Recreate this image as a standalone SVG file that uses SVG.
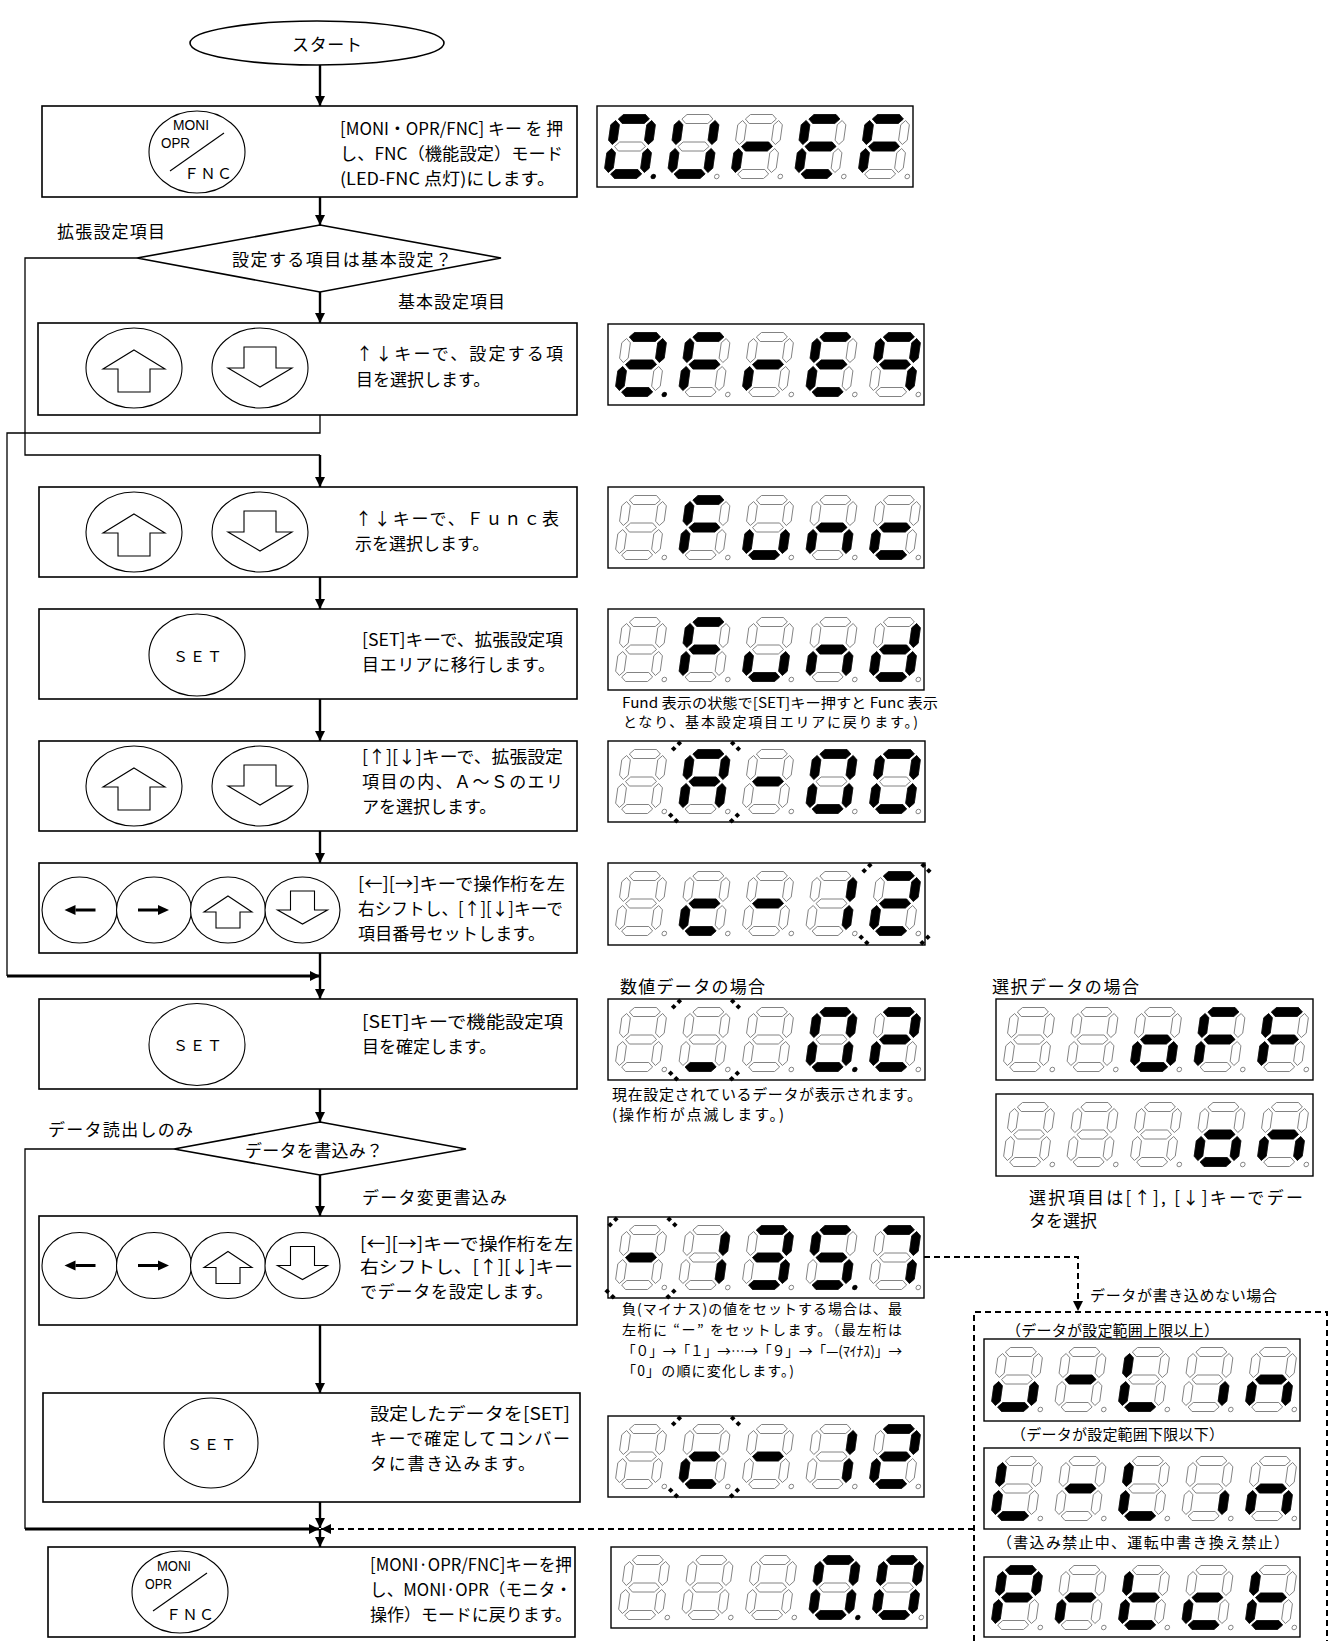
<svg xmlns="http://www.w3.org/2000/svg" xmlns:xlink="http://www.w3.org/1999/xlink" width="1332" height="1641" viewBox="0 0 1332 1641">
<style>
text{font-family:"Noto Sans CJK JP","Noto Sans CJK SC",sans-serif;fill:#000;dominant-baseline:central}
.t{font-size:17px}
.s{font-size:14px}
.m{font-size:15px}
.k{font-family:"Liberation Sans",Arial,sans-serif;font-size:14px}
.box{fill:#fff;stroke:#000;stroke-width:1.6}
.led{fill:#fff;stroke:#000;stroke-width:1.4}
.key{fill:#fff;stroke:#000;stroke-width:1.1}
.ln{fill:none;stroke:#000;stroke-width:2.4}
.thin{fill:none;stroke:#000;stroke-width:1.3}
.thick{fill:none;stroke:#000;stroke-width:3.2}
.dash{fill:none;stroke:#000;stroke-width:2;stroke-dasharray:6 4}
</style>
<defs>
<marker id="ah" viewBox="0 0 10 10" refX="10" refY="5" markerWidth="10" markerHeight="10" markerUnits="userSpaceOnUse" orient="auto"><path d="M0,0 L10,5 L0,10 Z" fill="#000"/></marker>
<path id="sa" d="M5,4.5 L9.5,0 L31.5,0 L36,4.5 L31.5,9 L9.5,9 Z"/>
<path id="sg" d="M5,32 L9.5,27.5 L31.5,27.5 L36,32 L31.5,36.5 L9.5,36.5 Z"/>
<path id="sd" d="M5,59.5 L9.5,55 L31.5,55 L36,59.5 L31.5,64 L9.5,64 Z"/>
<path id="sf" d="M2.5,6 L6.8,10.3 L6.8,25.7 L2.5,30 L-1.8,25.7 L-1.8,10.3 Z"/>
<path id="sb" d="M38.5,6 L42.8,10.3 L42.8,25.7 L38.5,30 L34.2,25.7 L34.2,10.3 Z"/>
<path id="se" d="M2.5,34 L6.8,38.3 L6.8,53.7 L2.5,58 L-1.8,53.7 L-1.8,38.3 Z"/>
<path id="sc" d="M38.5,34 L42.8,38.3 L42.8,53.7 L38.5,58 L34.2,53.7 L34.2,38.3 Z"/>
<g id="d8" fill="#fff" stroke="#7a7a7a" stroke-width="0.9"><use href="#sa"/><use href="#sb"/><use href="#sc"/><use href="#sd"/><use href="#se"/><use href="#sf"/><use href="#sg"/><circle cx="48" cy="62" r="2.3"/></g>
<circle id="dpo" cx="48" cy="62" r="2.5" fill="#000" transform="skewX(-8)"/>
<g id="cB" transform="skewX(-8)"><use href="#d8"/></g>
<g id="c0" transform="skewX(-8)"><use href="#d8"/><g fill="#000" stroke="#000" stroke-width="0.6"><use href="#sa"/><use href="#sb"/><use href="#sc"/><use href="#sd"/><use href="#se"/><use href="#sf"/></g></g>
<g id="cU" transform="skewX(-8)"><use href="#d8"/><g fill="#000" stroke="#000" stroke-width="0.6"><use href="#sb"/><use href="#sc"/><use href="#sd"/><use href="#se"/><use href="#sf"/></g></g>
<g id="cr" transform="skewX(-8)"><use href="#d8"/><g fill="#000" stroke="#000" stroke-width="0.6"><use href="#se"/><use href="#sg"/></g></g>
<g id="cE" transform="skewX(-8)"><use href="#d8"/><g fill="#000" stroke="#000" stroke-width="0.6"><use href="#sa"/><use href="#sd"/><use href="#se"/><use href="#sf"/><use href="#sg"/></g></g>
<g id="cF" transform="skewX(-8)"><use href="#d8"/><g fill="#000" stroke="#000" stroke-width="0.6"><use href="#sa"/><use href="#se"/><use href="#sf"/><use href="#sg"/></g></g>
<g id="c2" transform="skewX(-8)"><use href="#d8"/><g fill="#000" stroke="#000" stroke-width="0.6"><use href="#sa"/><use href="#sb"/><use href="#sd"/><use href="#se"/><use href="#sg"/></g></g>
<g id="cq" transform="skewX(-8)"><use href="#d8"/><g fill="#000" stroke="#000" stroke-width="0.6"><use href="#sa"/><use href="#sb"/><use href="#sc"/><use href="#sf"/><use href="#sg"/></g></g>
<g id="cu" transform="skewX(-8)"><use href="#d8"/><g fill="#000" stroke="#000" stroke-width="0.6"><use href="#sc"/><use href="#sd"/><use href="#se"/></g></g>
<g id="cn" transform="skewX(-8)"><use href="#d8"/><g fill="#000" stroke="#000" stroke-width="0.6"><use href="#sc"/><use href="#se"/><use href="#sg"/></g></g>
<g id="cc" transform="skewX(-8)"><use href="#d8"/><g fill="#000" stroke="#000" stroke-width="0.6"><use href="#sd"/><use href="#se"/><use href="#sg"/></g></g>
<g id="cd" transform="skewX(-8)"><use href="#d8"/><g fill="#000" stroke="#000" stroke-width="0.6"><use href="#sb"/><use href="#sc"/><use href="#sd"/><use href="#se"/><use href="#sg"/></g></g>
<g id="cA" transform="skewX(-8)"><use href="#d8"/><g fill="#000" stroke="#000" stroke-width="0.6"><use href="#sa"/><use href="#sb"/><use href="#sc"/><use href="#se"/><use href="#sf"/><use href="#sg"/></g></g>
<g id="cm" transform="skewX(-8)"><use href="#d8"/><g fill="#000" stroke="#000" stroke-width="0.6"><use href="#sg"/></g></g>
<g id="c1" transform="skewX(-8)"><use href="#d8"/><g fill="#000" stroke="#000" stroke-width="0.6"><use href="#sb"/><use href="#sc"/></g></g>
<g id="c3" transform="skewX(-8)"><use href="#d8"/><g fill="#000" stroke="#000" stroke-width="0.6"><use href="#sa"/><use href="#sb"/><use href="#sc"/><use href="#sd"/><use href="#sg"/></g></g>
<g id="c5" transform="skewX(-8)"><use href="#d8"/><g fill="#000" stroke="#000" stroke-width="0.6"><use href="#sa"/><use href="#sc"/><use href="#sd"/><use href="#sf"/><use href="#sg"/></g></g>
<g id="c7" transform="skewX(-8)"><use href="#d8"/><g fill="#000" stroke="#000" stroke-width="0.6"><use href="#sa"/><use href="#sb"/><use href="#sc"/></g></g>
<g id="co" transform="skewX(-8)"><use href="#d8"/><g fill="#000" stroke="#000" stroke-width="0.6"><use href="#sc"/><use href="#sd"/><use href="#se"/><use href="#sg"/></g></g>
<g id="cL" transform="skewX(-8)"><use href="#d8"/><g fill="#000" stroke="#000" stroke-width="0.6"><use href="#sd"/><use href="#se"/><use href="#sf"/></g></g>
<g id="ci" transform="skewX(-8)"><use href="#d8"/><g fill="#000" stroke="#000" stroke-width="0.6"><use href="#sc"/></g></g>
<g id="cP" transform="skewX(-8)"><use href="#d8"/><g fill="#000" stroke="#000" stroke-width="0.6"><use href="#sa"/><use href="#sb"/><use href="#se"/><use href="#sf"/><use href="#sg"/></g></g>
<g id="ct" transform="skewX(-8)"><use href="#d8"/><g fill="#000" stroke="#000" stroke-width="0.6"><use href="#sd"/><use href="#se"/><use href="#sf"/><use href="#sg"/></g></g>
<g id="cl" transform="skewX(-8)"><use href="#d8"/><g fill="#000" stroke="#000" stroke-width="0.6"><use href="#sd"/></g></g>
<path id="dm" d="M0,-2.8 L2.8,0 L0,2.8 L-2.8,0 Z" fill="#000"/>
<g id="mk1"><use href="#dm" x="-2.8" y="2.8"/><use href="#dm" x="2.8" y="-2.8"/></g>
<g id="mk2"><use href="#dm" x="-2.8" y="-2.8"/><use href="#dm" x="2.8" y="2.8"/></g>
<g id="blink"><use href="#mk1" x="-12" y="5"/><use href="#mk2" x="47" y="5"/><use href="#mk2" x="-15" y="77"/><use href="#mk1" x="46" y="77"/></g>
<g id="kU"><ellipse rx="48" ry="40" class="key"/><polygon points="0,-18 31,1 16,1 16,24 -16,24 -16,1 -31,1" class="key"/></g>
<g id="kD"><ellipse rx="48" ry="40" class="key"/><polygon points="-16,-21 16,-21 16,0 32,0 0,19 -32,0 -16,0" class="key"/></g>
<g id="sU"><ellipse rx="37.5" ry="33" class="key"/><polygon points="0,-14 24,2 12,2 12,18 -12,18 -12,2 -24,2" class="key"/></g>
<g id="sD"><ellipse rx="37.5" ry="33" class="key"/><polygon points="-12,-19 12,-19 12,0 25,0 0,14 -25,0 -12,0" class="key"/></g>
<g id="sL"><ellipse rx="37.5" ry="33" class="key"/><path d="M16,0 H-4" stroke="#000" stroke-width="3"/><polygon points="-15,0 -4,-5 -4,5" fill="#000"/></g>
<g id="sR"><ellipse rx="37.5" ry="33" class="key"/><path d="M-16,0 H4" stroke="#000" stroke-width="3"/><polygon points="15,0 4,-5 4,5" fill="#000"/></g>
<g id="kM"><ellipse rx="48" ry="41" class="key"/><line x1="-27" y1="19" x2="27" y2="-19" stroke="#000" stroke-width="1.1"/></g>
</defs>
<rect width="1332" height="1641" fill="#fff"/>

<g id="connectors">
<path class="ln" d="M320,65 V106" marker-end="url(#ah)"/>
<path class="ln" d="M320,197 V225" marker-end="url(#ah)"/>
<path class="ln" d="M320,292 V323" marker-end="url(#ah)"/>
<path class="thin" d="M320,415 V433 H7 V976"/>
<path class="thick" d="M7,976 H320" marker-end="url(#ah)"/>
<path class="thin" d="M137,258 H25 V455 H320"/>
<path class="ln" d="M320,455 V487" marker-end="url(#ah)"/>
<path class="ln" d="M320,577 V609" marker-end="url(#ah)"/>
<path class="ln" d="M320,699 V741" marker-end="url(#ah)"/>
<path class="ln" d="M320,831 V863" marker-end="url(#ah)"/>
<path class="ln" d="M320,953 V999" marker-end="url(#ah)"/>
<path class="ln" d="M320,1089 V1122" marker-end="url(#ah)"/>
<path class="ln" d="M320,1175 V1216" marker-end="url(#ah)"/>
<path class="ln" d="M320,1325 V1393" marker-end="url(#ah)"/>
<path class="ln" d="M320,1502 V1528" marker-end="url(#ah)"/>
<path class="thin" d="M174,1149 H25 V1529"/>
<path class="thick" d="M25,1529 H319" marker-end="url(#ah)"/>
<path class="dash" d="M974,1529 H321" marker-end="url(#ah)"/>
<path class="ln" d="M320,1529 V1547" marker-end="url(#ah)"/>
<path class="dash" d="M924,1257 H1078 V1311" marker-end="url(#ah)"/>
</g>

<g id="start"><ellipse cx="317" cy="43" rx="127" ry="22" class="box"/><text class="t" x="292" y="43" textLength="70">スタート</text></g>

<g id="step1">
<rect x="42" y="106" width="535" height="91" class="box"/>
<use href="#kM" x="197" y="152"/>
<text class="k" x="173" y="125" textLength="36" lengthAdjust="spacingAndGlyphs">MONI</text>
<text class="k" x="161" y="143" textLength="29" lengthAdjust="spacingAndGlyphs">OPR</text>
<text class="m" x="184" y="172" textLength="48">ＦＮＣ</text>
<text class="t" x="340" y="127" textLength="223" lengthAdjust="spacingAndGlyphs">[MONI・OPR/FNC] キー を 押</text>
<text class="t" x="340" y="152" textLength="223" lengthAdjust="spacingAndGlyphs">し、FNC（機能設定）モード</text>
<text class="t" x="340" y="177" textLength="215" lengthAdjust="spacingAndGlyphs">(LED-FNC 点灯)にします。</text>
</g>

<g id="q1">
<polygon points="320,225 501,258 320,292 137,258" class="box"/>
<text class="t" x="232" y="258" textLength="220">設定する項目は基本設定？</text>
<text class="t" x="57" y="230" textLength="108">拡張設定項目</text>
<text class="t" x="398" y="300" textLength="107">基本設定項目</text>
</g>

<g id="step2">
<rect x="38" y="323" width="539" height="92" class="box"/>
<use href="#kU" x="134" y="368"/>
<use href="#kD" x="260" y="368"/>
<text class="t" x="356" y="352" textLength="207">↑↓キーで、設定する項</text>
<text class="t" x="356" y="378">目を選択します。</text>
</g>

<g id="step3">
<rect x="39" y="487" width="538" height="90" class="box"/>
<use href="#kU" x="134" y="532"/>
<use href="#kD" x="260" y="532"/>
<text class="t" x="355" y="517" textLength="204">↑↓キーで、Ｆｕｎｃ表</text>
<text class="t" x="355" y="542">示を選択します。</text>
</g>

<g id="step4">
<rect x="39" y="609" width="538" height="90" class="box"/>
<ellipse cx="197" cy="655" rx="48" ry="41" class="key"/>
<text class="m" x="173" y="655" textLength="49">ＳＥＴ</text>
<text class="t" x="362" y="638" textLength="201" lengthAdjust="spacingAndGlyphs">[SET]キーで、拡張設定項</text>
<text class="t" x="362" y="663" textLength="193">目エリアに移行します。</text>
</g>

<g id="step5">
<rect x="39" y="741" width="538" height="90" class="box"/>
<use href="#kU" x="134" y="786"/>
<use href="#kD" x="260" y="786"/>
<text class="t" x="362" y="755" textLength="201" lengthAdjust="spacingAndGlyphs">[↑][↓]キーで、拡張設定</text>
<text class="t" x="362" y="780" textLength="201">項目の内、Ａ～Ｓのエリ</text>
<text class="t" x="362" y="805">アを選択します。</text>
</g>

<g id="step6">
<rect x="39" y="863" width="538" height="90" class="box"/>
<use href="#sL" x="79.5" y="910"/>
<use href="#sR" x="154" y="910"/>
<use href="#sU" x="228" y="910"/>
<use href="#sD" x="302.5" y="910"/>
<text class="t" x="358" y="882" textLength="207" lengthAdjust="spacingAndGlyphs">[←][→]キーで操作桁を左</text>
<text class="t" x="358" y="907" textLength="205" lengthAdjust="spacingAndGlyphs">右シフトし、[↑][↓]キーで</text>
<text class="t" x="358" y="932" textLength="187">項目番号セットします。</text>
</g>

<g id="step7">
<rect x="39" y="999" width="538" height="90" class="box"/>
<ellipse cx="197" cy="1044.5" rx="48" ry="41" class="key"/>
<text class="m" x="173" y="1044.5" textLength="49">ＳＥＴ</text>
<text class="t" x="362" y="1020" textLength="201" lengthAdjust="spacingAndGlyphs">[SET]キーで機能設定項</text>
<text class="t" x="362" y="1045">目を確定します。</text>
</g>

<g id="q2">
<polygon points="320,1122 466,1149 320,1175 174,1149" class="box"/>
<text class="t" x="245" y="1149" textLength="138">データを書込み？</text>
<text class="t" x="48" y="1128" textLength="145">データ読出しのみ</text>
<text class="t" x="362" y="1196" textLength="145">データ変更書込み</text>
</g>

<g id="step8">
<rect x="39" y="1216" width="538" height="109" class="box"/>
<use href="#sL" x="79.5" y="1265.5"/>
<use href="#sR" x="154" y="1265.5"/>
<use href="#sU" x="228" y="1265.5"/>
<use href="#sD" x="302.5" y="1265.5"/>
<text class="t" x="360" y="1242" textLength="213" lengthAdjust="spacingAndGlyphs">[←][→]キーで操作桁を左</text>
<text class="t" x="360" y="1265" textLength="213" lengthAdjust="spacingAndGlyphs">右シフトし、[↑][↓]キー</text>
<text class="t" x="360" y="1290" textLength="193">でデータを設定します。</text>
</g>

<g id="step9">
<rect x="43" y="1393" width="537" height="109" class="box"/>
<ellipse cx="211" cy="1443" rx="47" ry="45" class="key"/>
<text class="m" x="187" y="1443" textLength="49">ＳＥＴ</text>
<text class="t" x="370" y="1412" textLength="200" lengthAdjust="spacingAndGlyphs">設定したデータを[SET]</text>
<text class="t" x="370" y="1437" textLength="200">キーで確定してコンバー</text>
<text class="t" x="370" y="1462" textLength="165">タに書き込みます。</text>
</g>

<g id="step10">
<rect x="48" y="1547" width="527" height="90" class="box"/>
<use href="#kM" x="180" y="1592"/>
<text class="k" x="157" y="1566" textLength="34" lengthAdjust="spacingAndGlyphs">MONI</text>
<text class="k" x="145" y="1584" textLength="27" lengthAdjust="spacingAndGlyphs">OPR</text>
<text class="m" x="166" y="1613" textLength="48">ＦＮＣ</text>
<text class="t" x="370" y="1563" textLength="202" lengthAdjust="spacingAndGlyphs">[MONI·OPR/FNC]キーを押</text>
<text class="t" x="370" y="1588" textLength="202" lengthAdjust="spacingAndGlyphs">し、MONI·OPR（モニタ・</text>
<text class="t" x="370" y="1613" textLength="202" lengthAdjust="spacingAndGlyphs">操作）モードに戻ります。</text>
</g>

<g id="led1" transform="translate(597,106)">
<rect width="316" height="81" class="led"/>
<use href="#c0" x="17" y="8.5"/><use href="#dpo" x="17" y="8.5"/><use href="#cU" x="80.5" y="8.5"/><use href="#cr" x="144" y="8.5"/><use href="#cE" x="207.5" y="8.5"/><use href="#cF" x="271" y="8.5"/>
</g>
<g id="led2" transform="translate(608,324)">
<rect width="316" height="81" class="led"/>
<use href="#c2" x="17" y="8.5"/><use href="#dpo" x="17" y="8.5"/><use href="#cF" x="80.5" y="8.5"/><use href="#cr" x="144" y="8.5"/><use href="#cE" x="207.5" y="8.5"/><use href="#cq" x="271" y="8.5"/>
</g>
<g id="led3" transform="translate(608,487)">
<rect width="316" height="81" class="led"/>
<use href="#cB" x="17" y="8.5"/><use href="#cF" x="80.5" y="8.5"/><use href="#cu" x="144" y="8.5"/><use href="#cn" x="207.5" y="8.5"/><use href="#cc" x="271" y="8.5"/>
</g>
<g id="led4" transform="translate(608,609)">
<rect width="316" height="81" class="led"/>
<use href="#cB" x="17" y="8.5"/><use href="#cF" x="80.5" y="8.5"/><use href="#cu" x="144" y="8.5"/><use href="#cn" x="207.5" y="8.5"/><use href="#cd" x="271" y="8.5"/>
</g>
<g id="note-fund">
<text class="s" x="622" y="702" textLength="316" lengthAdjust="spacingAndGlyphs">Fund 表示の状態で[SET]キー押すと Func 表示</text>
<text class="s" x="623" y="721" textLength="295">となり、基本設定項目エリアに戻ります。)</text>
</g>
<g id="led5" transform="translate(608,741)">
<rect width="317" height="81" class="led"/>
<use href="#cB" x="17" y="8.5"/><use href="#cA" x="80.5" y="8.5"/><use href="#cm" x="144" y="8.5"/><use href="#c0" x="207.5" y="8.5"/><use href="#c0" x="271" y="8.5"/>
<use href="#blink" x="80.5"/>
</g>
<g id="led6" transform="translate(608,863)">
<rect width="317" height="82" class="led"/>
<use href="#cB" x="17" y="8.5"/><use href="#cc" x="80.5" y="8.5"/><use href="#cm" x="144" y="8.5"/><use href="#c1" x="207.5" y="8.5"/><use href="#c2" x="271" y="8.5"/>
<use href="#blink" x="271"/>
</g>

<g id="numeric">
<text class="t" x="620" y="985" textLength="145">数値データの場合</text>
<g transform="translate(608,999)">
<rect width="317" height="81" class="led"/>
<use href="#cB" x="17" y="8.5"/><use href="#cl" x="80.5" y="8.5"/><use href="#cB" x="144" y="8.5"/><use href="#c0" x="207.5" y="8.5"/><use href="#dpo" x="207.5" y="8.5"/><use href="#c2" x="271" y="8.5"/>
<use href="#blink" x="80.5"/>
</g>
<text class="m" x="612" y="1093" textLength="310">現在設定されているデータが表示されます。</text>
<text class="m" x="612" y="1113" textLength="172">(操作桁が点滅します。)</text>
</g>

<g id="select">
<text class="t" x="992" y="985" textLength="147">選択データの場合</text>
<g transform="translate(996,999)">
<rect width="317" height="81" class="led"/>
<use href="#cB" x="17" y="8.5"/><use href="#cB" x="80.5" y="8.5"/><use href="#co" x="144" y="8.5"/><use href="#cF" x="207.5" y="8.5"/><use href="#cF" x="271" y="8.5"/>
</g>
<g transform="translate(996,1094)">
<rect width="317" height="82" class="led"/>
<use href="#cB" x="17" y="8.5"/><use href="#cB" x="80.5" y="8.5"/><use href="#cB" x="144" y="8.5"/><use href="#co" x="207.5" y="8.5"/><use href="#cn" x="271" y="8.5"/>
</g>
<text class="t" x="1029" y="1196" textLength="274">選択項目は[↑], [↓]キーでデー</text>
<text class="t" x="1029" y="1219">タを選択</text>
</g>

<g id="led10" transform="translate(608,1217)">
<rect width="316" height="81" class="led"/>
<use href="#cm" x="17" y="8.5"/><use href="#c1" x="80.5" y="8.5"/><use href="#c3" x="144" y="8.5"/><use href="#c5" x="207.5" y="8.5"/><use href="#dpo" x="207.5" y="8.5"/><use href="#c7" x="271" y="8.5"/>
<use href="#blink" x="17"/>
</g>
<g id="note-minus">
<text class="s" x="622" y="1308" textLength="280">負(マイナス)の値をセットする場合は、最</text>
<text class="s" x="622" y="1329" textLength="280">左桁に “ー” をセットします。（最左桁は</text>
<text class="s" x="622" y="1350" textLength="280" lengthAdjust="spacingAndGlyphs">「０」→「１」→…→「９」→「—(ﾏｲﾅｽ)」→</text>
<text class="s" x="622" y="1370" textLength="172">「0」の順に変化します。)</text>
</g>
<g id="led11" transform="translate(608,1416)">
<rect width="316" height="81" class="led"/>
<use href="#cB" x="17" y="8.5"/><use href="#cc" x="80.5" y="8.5"/><use href="#cm" x="144" y="8.5"/><use href="#c1" x="207.5" y="8.5"/><use href="#c2" x="271" y="8.5"/>
<use href="#blink" x="80.5"/>
</g>
<g id="led12" transform="translate(611,1547)">
<rect width="316" height="81" class="led"/>
<use href="#cB" x="17" y="8.5"/><use href="#cB" x="80.5" y="8.5"/><use href="#cB" x="144" y="8.5"/><use href="#c0" x="207.5" y="8.5"/><use href="#dpo" x="207.5" y="8.5"/><use href="#c0" x="271" y="8.5"/>
</g>

<g id="error">
<path class="dash" d="M974,1641 V1312 H1327 V1641"/>
<text class="m" x="1090" y="1294" textLength="187">データが書き込めない場合</text>
<text class="m" x="1006" y="1329" textLength="213">（データが設定範囲上限以上）</text>
<g transform="translate(984,1339)">
<rect width="316" height="82" class="led"/>
<use href="#cu" x="17" y="8.5"/><use href="#cm" x="80.5" y="8.5"/><use href="#cL" x="144" y="8.5"/><use href="#ci" x="207.5" y="8.5"/><use href="#cn" x="271" y="8.5"/>
</g>
<text class="m" x="1011" y="1433" textLength="213">（データが設定範囲下限以下）</text>
<g transform="translate(984,1448)">
<rect width="316" height="81" class="led"/>
<use href="#cL" x="17" y="8.5"/><use href="#cm" x="80.5" y="8.5"/><use href="#cL" x="144" y="8.5"/><use href="#ci" x="207.5" y="8.5"/><use href="#cn" x="271" y="8.5"/>
</g>
<text class="m" x="997" y="1541" textLength="292">（書込み禁止中、運転中書き換え禁止）</text>
<g transform="translate(984,1557)">
<rect width="316" height="80" class="led"/>
<use href="#cP" x="17" y="8.5"/><use href="#cr" x="80.5" y="8.5"/><use href="#ct" x="144" y="8.5"/><use href="#cc" x="207.5" y="8.5"/><use href="#ct" x="271" y="8.5"/>
</g>
</g>
</svg>
